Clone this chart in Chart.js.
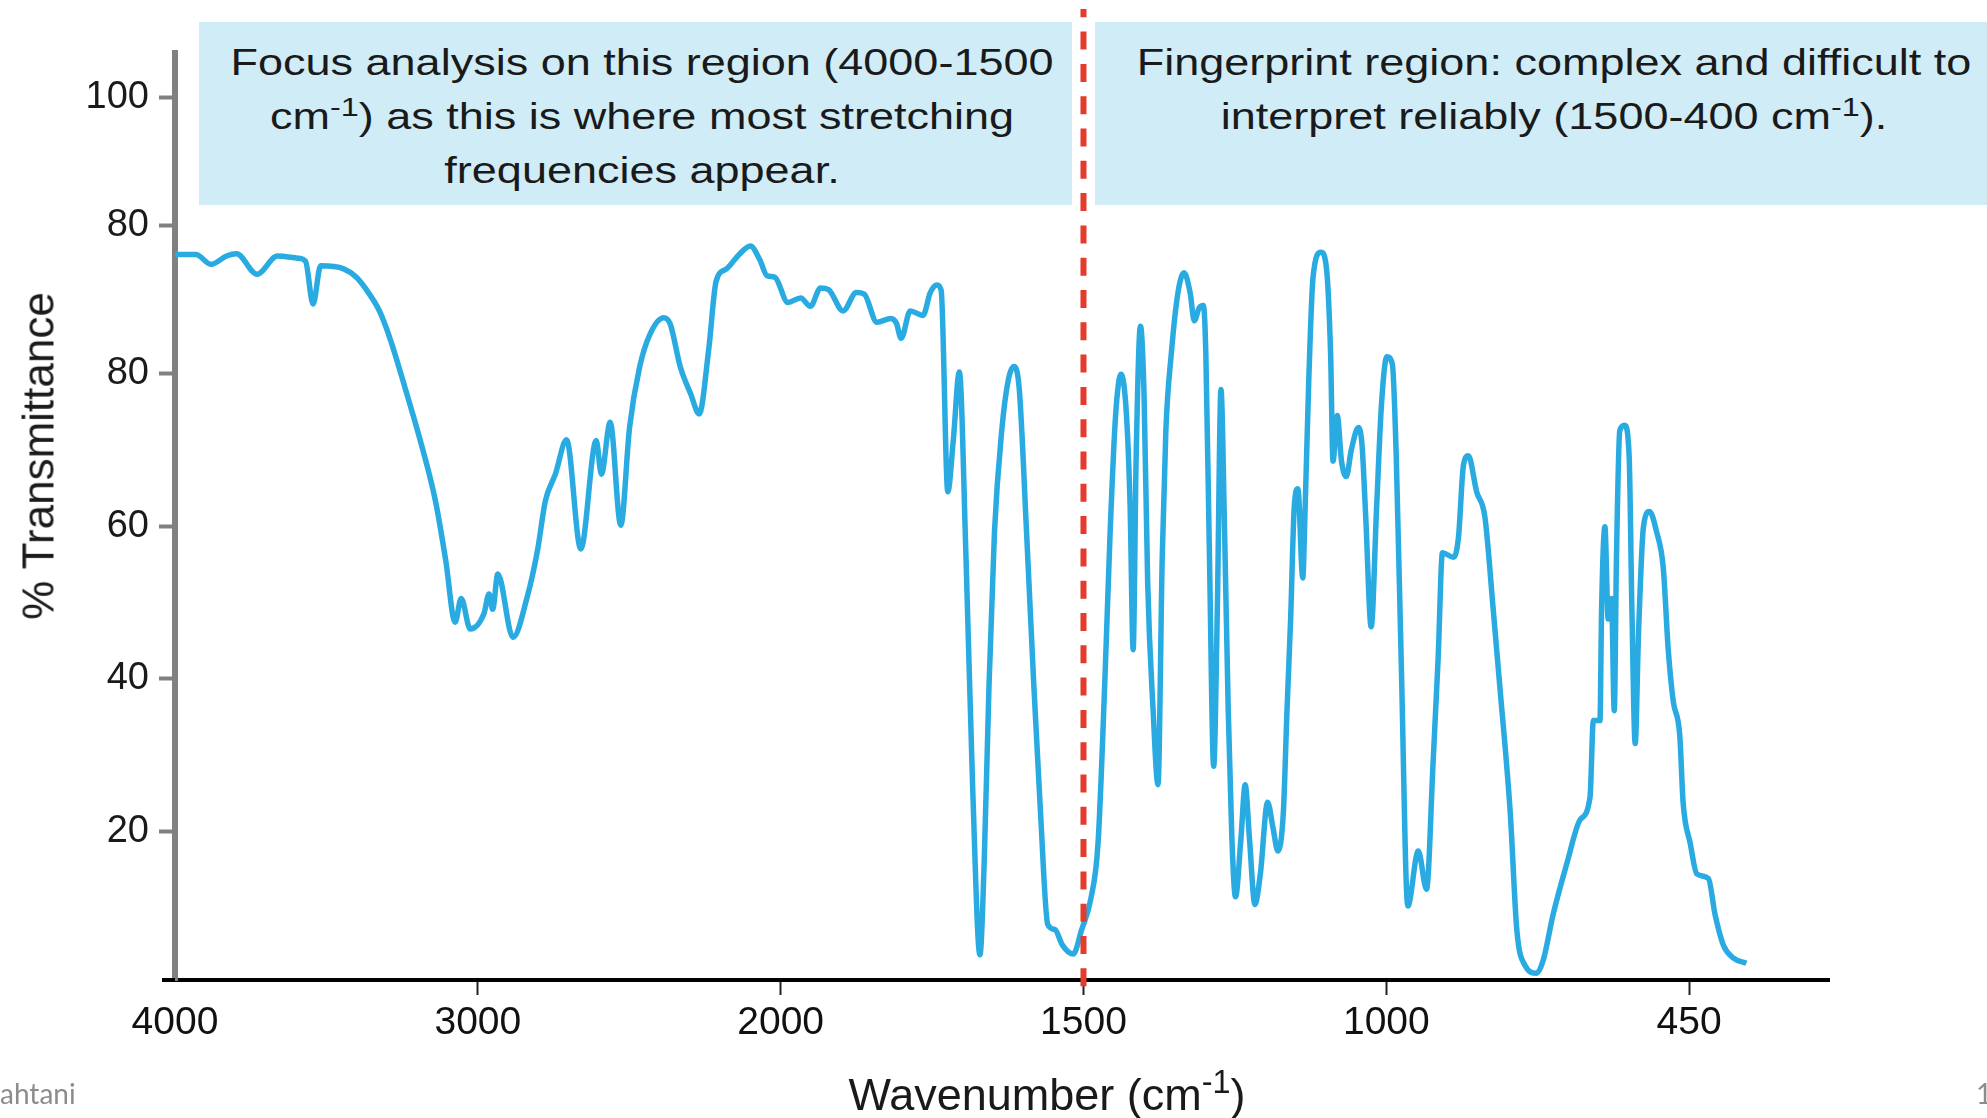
<!DOCTYPE html>
<html>
<head>
<meta charset="utf-8">
<title>IR spectrum</title>
<script src="https://cdn.jsdelivr.net/npm/chart.js@4.4.1/dist/chart.umd.min.js"></script>
<style>
  html, body { margin: 0; padding: 0; background: #fff; overflow: hidden; }
  #wrap { position: relative; width: 1987px; height: 1118px; font-family: "Liberation Sans", Arial, sans-serif; color: #1a1a1a; }
  #wrap canvas { position: absolute; left: 0; top: 0; }
  .note { position: absolute; top: 22px; height: 183px; background: #d0ecf7; overflow: hidden; }
  .note-text { position: absolute; top: 14px; width: max-content; font-size: 36px; line-height: 54px; text-align: center; white-space: nowrap; transform: translateX(-50%) scaleX(1.25); }
  .axis-title { position: absolute; width: max-content; font-size: 45px; line-height: 45px; white-space: nowrap; transform: translate(-50%, -50%); }
  .footer { position: absolute; top: 1078px; font-family: Lato, "Open Sans", sans-serif; font-size: 28px; line-height: 30px; color: #8c8c8c; }
  sup { font-size: 0.72em; line-height: 0; vertical-align: 0.5em; }
</style>
</head>
<body>
<div id="wrap">
  <canvas id="spectrum"></canvas>
  <div class="note" style="left:199px;width:873px">
    <div class="note-text" style="left:443px">Focus analysis on this region (4000-1500<br>cm<sup>-1</sup>) as this is where most stretching<br>frequencies appear.</div>
  </div>
  <div class="note" style="left:1095px;width:892px">
    <div class="note-text" style="left:459px">Fingerprint region: complex and difficult to<br>interpret reliably (1500-400 cm<sup>-1</sup>).</div>
  </div>
  <div class="axis-title" style="left:1047px;top:1094px">Wavenumber (cm<sup>-1</sup>)</div>
  <div class="axis-title" style="left:38px;top:456px;font-size:44px;transform:translate(-50%,-50%) rotate(-90deg)">% Transmittance</div>
  <div class="footer" style="left:0">ahtani</div>
  <div class="footer" style="left:1976px">1</div>
</div>
<script>
// axis ticks as printed on the figure (the spacing is even, the numbers are not)
const xTickWavenumbers = [4000, 3000, 2000, 1500, 1000, 450];
const xTickLabels = ['4000', '3000', '2000', '1500', '1000', '450'];
const xAxisEnds = [4000, 196];
const yTickValues = [20, 40, 60, 80, 99.4, 116.2];
const yTickLabels = ['20', '40', '60', '80', '80', '100'];
const regionBoundary = 1500;

// spectrum
const wavenumbers = [
  4000, 3931, 3881, 3830, 3797, 3729, 3662, 3594, 3569, 3544, 3519, 3443, 3401, 3358, 3325, 3291,
  3241, 3190, 3140, 3106, 3075, 3055, 3025, 2980, 2963, 2951, 2934, 2884, 2837, 2803, 2777, 2744,
  2707, 2660, 2609, 2592, 2563, 2528, 2499, 2466, 2432, 2386, 2365, 2331, 2297, 2269, 2238, 2213,
  2179, 2137, 2100, 2070, 2045, 2019, 1988, 1967, 1951, 1934, 1921, 1897, 1875, 1862, 1841, 1818,
  1809, 1801, 1786, 1765, 1753, 1742, 1735, 1724, 1715, 1705, 1694, 1683, 1671, 1664, 1656, 1647,
  1635, 1624, 1615, 1606, 1594, 1582, 1571, 1559, 1547, 1535, 1517, 1503, 1488, 1476, 1465, 1456,
  1447, 1438, 1429, 1423, 1418, 1413, 1406, 1400, 1394, 1385, 1377, 1370, 1364, 1355, 1344, 1334,
  1324, 1317, 1309, 1302, 1298, 1292, 1285, 1279, 1273, 1267, 1261, 1255, 1249, 1240, 1233, 1226,
  1217, 1208, 1196, 1187, 1179, 1170, 1164, 1158, 1152, 1146, 1138, 1134, 1128, 1121, 1108, 1099,
  1092, 1088, 1081, 1074, 1066, 1058, 1046, 1040, 1034, 1025, 1016, 1008, 999, 989, 982, 973,
  961, 942, 927, 915, 906, 898, 878, 869, 860, 851, 836, 821, 806, 794, 775, 763,
  748, 727, 715, 697, 672, 648, 630, 624, 612, 609, 603, 597, 591, 586, 582, 576,
  567, 559, 554, 548, 542, 533, 522, 509, 497, 488, 479, 467, 461, 448, 436, 415,
  403, 388, 370, 346
];
const transmittance = [
  95.6, 95.6, 94.3, 95.4, 95.7, 93.0, 95.4, 95.1, 94.7, 89.1, 94.1, 93.7, 92.6, 90.4, 88.2, 84.7,
  78.2, 71.2, 63.3, 55.5, 47.4, 50.5, 46.5, 48.5, 51.1, 49.1, 53.7, 45.4, 50.7, 56.8, 63.3, 66.8,
  71.3, 57.0, 71.2, 66.8, 73.6, 60.1, 72.9, 80.8, 85.1, 87.3, 86.5, 80.8, 77.3, 74.7, 83.0, 92.1,
  93.7, 95.6, 96.7, 95.0, 92.8, 92.6, 89.3, 89.9, 88.8, 91.2, 91.0, 88.2, 90.6, 90.4, 86.7, 87.2,
  86.6, 84.6, 88.2, 87.6, 90.6, 91.6, 90.9, 64.5, 71.2, 80.2, 55.9, 25.8, 3.8, 15.8, 39.1, 59.2,
  72.5, 79.2, 80.9, 77.9, 59.2, 39.1, 22.5, 7.8, 7.1, 5.1, 3.9, 7.1, 11.1, 18.4, 39.1, 59.2,
  74.5, 79.9, 74.5, 62.5, 43.8, 69.2, 86.2, 77.2, 52.5, 35.8, 26.1, 55.9, 72.5, 82.6, 90.6, 93.2,
  90.6, 86.9, 88.6, 88.9, 82.6, 55.9, 28.5, 49.2, 77.9, 59.2, 35.8, 19.1, 11.4, 19.1, 26.1, 19.1,
  10.4, 14.4, 23.8, 20.4, 17.4, 22.5, 35.8, 47.8, 62.5, 64.9, 53.2, 62.5, 79.2, 92.6, 95.9, 93.9,
  82.6, 68.5, 74.5, 68.5, 66.5, 69.9, 72.9, 70.5, 61.2, 46.8, 62.5, 75.9, 82.2, 81.2, 69.2, 42.5,
  10.2, 17.4, 12.4, 29.1, 42.5, 56.5, 55.9, 58.5, 67.9, 69.2, 64.5, 61.2, 49.2, 39.1, 22.5, 7.1,
  2.4, 1.4, 3.1, 9.1, 15.8, 21.5, 24.5, 34.5, 34.5, 49.2, 59.9, 47.8, 50.5, 35.8, 55.9, 72.5,
  73.2, 69.2, 49.2, 31.5, 45.8, 59.9, 61.9, 59.2, 54.5, 43.8, 37.1, 32.5, 23.8, 18.4, 14.4, 13.8,
  9.1, 5.1, 3.4, 2.7
];

// the printed x axis is piecewise: each tick gap is the same width on paper
function toAxis(w) {
  const t = xTickWavenumbers;
  for (let i = 0; i < t.length - 1; i++) {
    if (w >= t[i + 1] || i === t.length - 2) {
      return i + (t[i] - w) / (t[i] - t[i + 1]);
    }
  }
}

const points = wavenumbers.map((w, i) => ({ x: toAxis(w), y: transmittance[i] }));

// red dashed divider between the two regions, plus the little stub of x axis left of the y axis
const dividerLine = {
  id: 'dividerLine',
  afterDatasetsDraw(chart) {
    const { ctx, chartArea } = chart;
    const px = chart.scales.x.getPixelForValue(toAxis(regionBoundary));
    ctx.save();
    ctx.strokeStyle = '#000';
    ctx.lineWidth = 4;
    ctx.beginPath();
    ctx.moveTo(chartArea.left - 13, chartArea.bottom);
    ctx.lineTo(chartArea.left, chartArea.bottom);
    ctx.stroke();

    ctx.strokeStyle = '#e53a2c';
    ctx.lineWidth = 6;
    ctx.setLineDash([18, 14.3]);
    ctx.lineDashOffset = 9.7;
    ctx.beginPath();
    ctx.moveTo(px, 9);
    ctx.lineTo(px, chartArea.bottom + 8);
    ctx.stroke();
    ctx.restore();
  }
};

Chart.defaults.font.family = '"Liberation Sans", Arial, sans-serif';

new Chart(document.getElementById('spectrum'), {
  type: 'line',
  data: {
    datasets: [{
      label: '% Transmittance',
      data: points,
      borderColor: '#29abe2',
      borderWidth: 5.5,
      borderJoinStyle: 'round',
      cubicInterpolationMode: 'monotone',
      pointRadius: 0,
      fill: false
    }]
  },
  options: {
    responsive: true,
    maintainAspectRatio: false,
    animation: false,
    devicePixelRatio: 1,
    layout: { padding: { left: 0, right: 158, top: 53, bottom: 68 } },
    plugins: { legend: { display: false }, tooltip: { enabled: false } },
    scales: {
      x: {
        type: 'linear',
        min: toAxis(xAxisEnds[0]),
        max: toAxis(xAxisEnds[1]),
        afterBuildTicks: (axis) => {
          axis.ticks = xTickWavenumbers.map(w => ({ value: toAxis(w) }));
        },
        afterFit: (scale) => { scale.height = 70; },
        ticks: {
          autoSkip: false,
          maxRotation: 0,
          padding: 5,
          color: '#111',
          font: { size: 39 },
          callback: (value, index) => xTickLabels[index]
        },
        grid: {
          drawOnChartArea: false,
          tickLength: 15,
          tickWidth: 2,
          tickColor: (c) => c.index === 0 ? 'rgba(0,0,0,0)' : '#222'
        },
        border: { color: '#000', width: 4 }
      },
      y: {
        type: 'linear',
        position: 'left',
        min: 0.5,
        max: 122,
        afterBuildTicks: (axis) => {
          axis.ticks = yTickValues.map(v => ({ value: v }));
        },
        afterFit: (scale) => { scale.width = 175; },
        ticks: {
          autoSkip: false,
          padding: 10,
          color: '#1a1a1a',
          font: { size: 38 },
          callback: (value, index) => yTickLabels[index]
        },
        grid: {
          drawOnChartArea: false,
          tickLength: 16,
          tickWidth: 4,
          tickColor: '#808080'
        },
        border: { color: '#808080', width: 6 }
      }
    }
  },
  plugins: [dividerLine]
});
</script>
</body>
</html>
